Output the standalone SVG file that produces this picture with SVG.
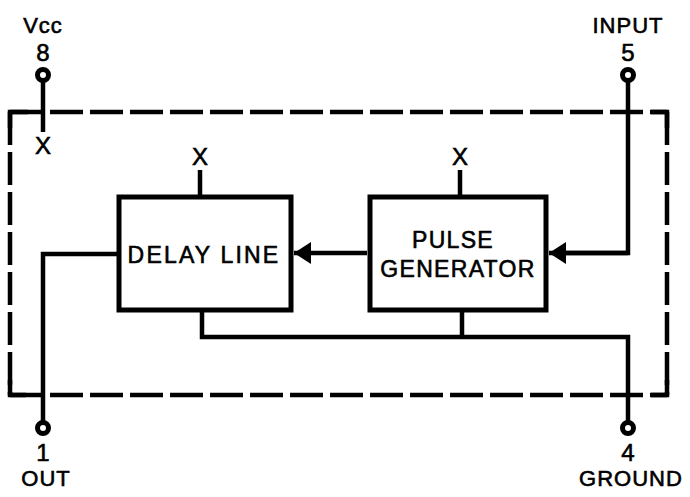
<svg xmlns="http://www.w3.org/2000/svg" width="690" height="497" viewBox="0 0 690 497">
<style>
.t{font-family:"Liberation Sans",Arial,sans-serif;fill:#000;stroke:#000;stroke-width:0.6;text-anchor:middle}
.pin{font-size:22px;letter-spacing:1px}
.num{font-size:24px}
.box{font-size:23px;letter-spacing:1.3px}
.x{font-size:24px}
.w{fill:none;stroke:#000;stroke-width:4.5}
.blk{fill:#fff;stroke:#000;stroke-width:5}
.dash{fill:none;stroke:#000;stroke-width:4.5;stroke-dasharray:33 7}
.pc{fill:#fff;stroke:#000;stroke-width:5}
</style>
<defs>
<marker id="ah" markerUnits="userSpaceOnUse" markerWidth="18" markerHeight="24" refX="17" refY="11" orient="auto">
<polygon points="0,0 17,11 0,22" fill="#000"/>
</marker>
</defs>
<rect width="690" height="497" fill="#fff"/>
<g id="package">
<path class="dash" d="M10,112 H667"/>
<path class="dash" d="M10,395 H667"/>
<path class="dash" d="M10,112 V395"/>
<path class="dash" d="M667,112 V395"/>
<path class="w" d="M10,128 V112 H28"/>
<path class="w" d="M651,112 H667 V128"/>
<path class="w" d="M10,380 V395 H26"/>
<path class="w" d="M651,395 H667 V380"/>
</g>
<g id="connectors">
<path class="w" d="M43,81 V132"/>
<path class="w" d="M628,81 V253 H566"/>
<path class="w" d="M628,253 H549" marker-end="url(#ah)"/>
<path class="w" d="M367,253 H294" marker-end="url(#ah)"/>
<path class="w" d="M117,254 H43 V422"/>
<path class="w" d="M202,312 V337 H628 V422"/>
<path class="w" d="M462,312 V337"/>
<path class="w" d="M200,170 V195"/>
<path class="w" d="M460,170 V195"/>
</g>
<g id="delay-line">
<rect class="blk" x="119" y="197" width="172" height="113"/>
<text class="t box" x="204" y="263" style="letter-spacing:2.2px">DELAY LINE</text>
<text class="t x" x="200" y="165">X</text>
</g>
<g id="pulse-generator">
<rect class="blk" x="370" y="197" width="176" height="113"/>
<text class="t box" x="453" y="248">PULSE</text>
<text class="t box" x="458" y="277">GENERATOR</text>
<text class="t x" x="460" y="165">X</text>
</g>
<g id="pin-vcc">
<circle class="pc" cx="43" cy="75" r="5.5"/>
<text class="t pin" x="43" y="33">Vcc</text>
<text class="t num" x="43" y="61">8</text>
<text class="t x" x="43" y="154">X</text>
</g>
<g id="pin-input">
<circle class="pc" cx="628" cy="75" r="5.5"/>
<text class="t pin" x="628" y="33">INPUT</text>
<text class="t num" x="628" y="61">5</text>
</g>
<g id="pin-out">
<circle class="pc" cx="43" cy="428" r="5.5"/>
<text class="t num" x="43" y="461">1</text>
<text class="t pin" x="46" y="486">OUT</text>
</g>
<g id="pin-ground">
<circle class="pc" cx="628" cy="428" r="5.5"/>
<text class="t num" x="628" y="461">4</text>
<text class="t pin" x="631" y="486">GROUND</text>
</g>
</svg>
